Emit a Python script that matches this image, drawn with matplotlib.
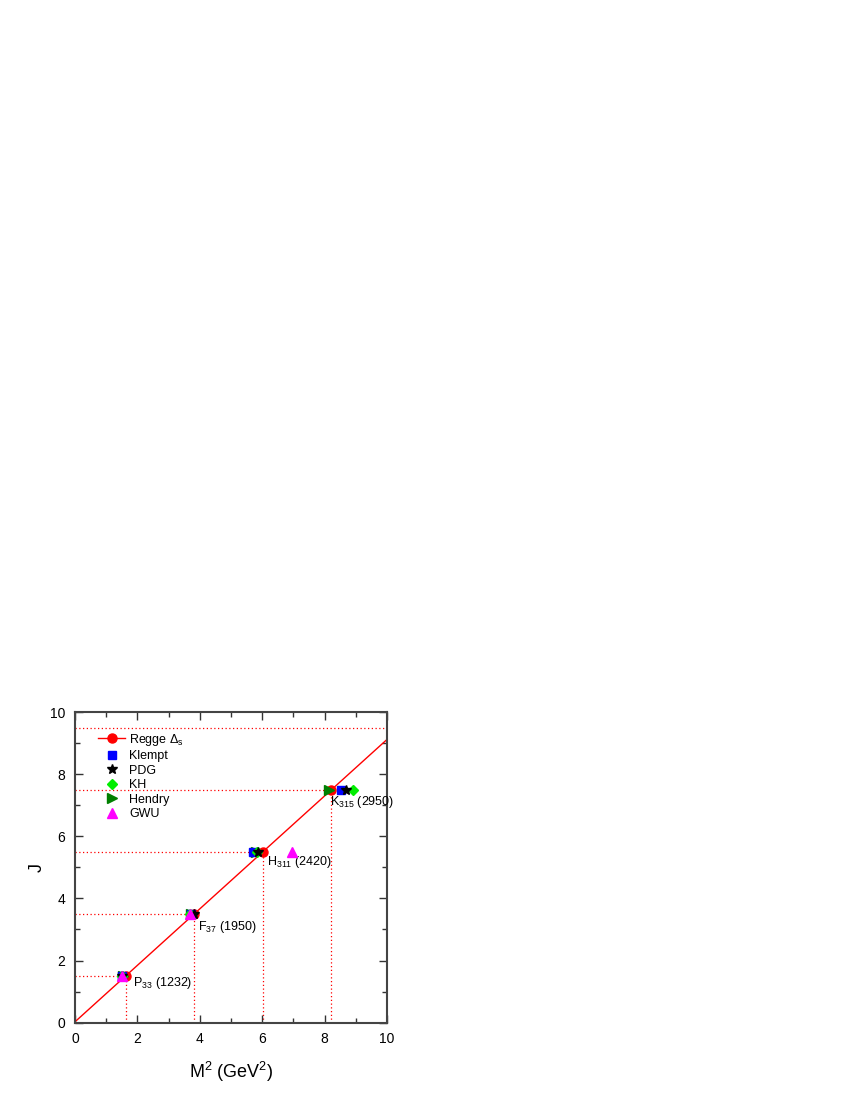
import matplotlib
matplotlib.use("Agg")
import matplotlib.pyplot as plt
import numpy as np
from matplotlib.ticker import MultipleLocator

plt.rcParams['font.family'] = ['Liberation Sans', 'DejaVu Sans']
plt.rcParams['mathtext.fontset'] = 'custom'
plt.rcParams['mathtext.rm'] = 'Liberation Sans'
plt.rcParams['mathtext.it'] = 'Liberation Sans'

J = [1.5, 3.5, 5.5, 7.5]
regge_m2 = [1.62, 3.82, 6.01, 8.22]
regge_slope = 0.909
regge_intercept = 0.027

klempt_m2 = [1.52, 3.72, 5.70, 8.53]
pdg_m2 = [1.52, 3.80, 5.86, 8.68]
kh_m2 = [1.50, 3.68, 5.84, 8.92]
hendry_m2 = [1.54, 3.72, 5.80, 8.14]
gwu_m2 = [1.52, 3.68, 6.95]
gwu_J = [1.5, 3.5, 5.5]

labels = [r"P$_{\mathrm{33}}$ (1232)", r"F$_{\mathrm{37}}$ (1950)", r"H$_{\mathrm{311}}$ (2420)", r"K$_{\mathrm{315}}$ (2950)"]
label_pos = [(1.85, 1.28), (3.93, 3.09), (6.14, 5.18), (8.17, 7.1)]

fig = plt.figure(figsize=(8.5, 11), dpi=100)
ax = fig.add_axes([0.0882, 0.0703, 0.3671, 0.2824])

# guide lines
for m2, j in zip(regge_m2, J):
    ax.plot([0, m2], [j, j], ls=(0, (1, 2)), color='red', lw=0.9, zorder=1)
    ax.plot([m2, m2], [0, j], ls=(0, (1, 2)), color='red', lw=0.9, zorder=1)
ax.plot([0, 10], [9.5, 9.5], ls=(0, (1, 2)), color='red', lw=0.9, zorder=1)

xs = np.array([0, 10])
ax.plot(xs, regge_slope * xs + regge_intercept, color='red', lw=1.0, zorder=2)
ax.plot(regge_m2, J, 'o', color='red', ms=6.5, zorder=3)
reg_handle = plt.Line2D([], [], color='red', marker='o', ms=6.5, lw=1.0)

ax.plot(hendry_m2, J, '>', color='#008000', ms=7, zorder=4, label='Hendry')
ax.plot(klempt_m2, J, 's', color='#0000ff', ms=6, zorder=4, label='Klempt')
ax.plot(pdg_m2, J, '*', color='black', ms=7, zorder=5, label='PDG')
ax.plot(kh_m2, J, 'D', color='#00ee00', ms=5.5, zorder=4, label='KH')
ax.plot(gwu_m2, gwu_J, '^', color='#ff00ff', ms=7, zorder=6, label='GWU')

for t, (x, y) in zip(labels, label_pos):
    ax.text(x, y, t, fontsize=9, va='center', ha='left')

h, l = ax.get_legend_handles_labels()
order = ['Klempt', 'PDG', 'KH', 'Hendry', 'GWU']
hd = dict(zip(l, h))
handles = [reg_handle] + [hd[k] for k in order]
labs = [r"Regge $\Delta_{\mathrm{s}}$"] + order
ax.legend(handles, labs, loc='upper left', bbox_to_anchor=(0.045, 0.965), frameon=False,
          fontsize=9, handlelength=2.2, labelspacing=0.2, borderaxespad=0.3, handletextpad=0.3)

ax.set_xlim(0, 10)
ax.set_ylim(0, 10)
ax.xaxis.set_major_locator(MultipleLocator(2))
ax.xaxis.set_minor_locator(MultipleLocator(1))
ax.yaxis.set_major_locator(MultipleLocator(2))
ax.yaxis.set_minor_locator(MultipleLocator(1))
ax.tick_params(which='both', direction='in', top=True, right=True, labelsize=10, color='#333333')
ax.tick_params(which='major', length=6, width=1.0, pad=7)
ax.tick_params(which='minor', length=3.5, width=1.0)
for s in ax.spines.values():
    s.set_linewidth(1.5)
    s.set_color('#444444')

ax.set_xlabel(r"M$^2$ (GeV$^2$)", fontsize=13, labelpad=10)
ax.set_ylabel("J", fontsize=13, labelpad=3)

fig.savefig("out.png", dpi=100)
